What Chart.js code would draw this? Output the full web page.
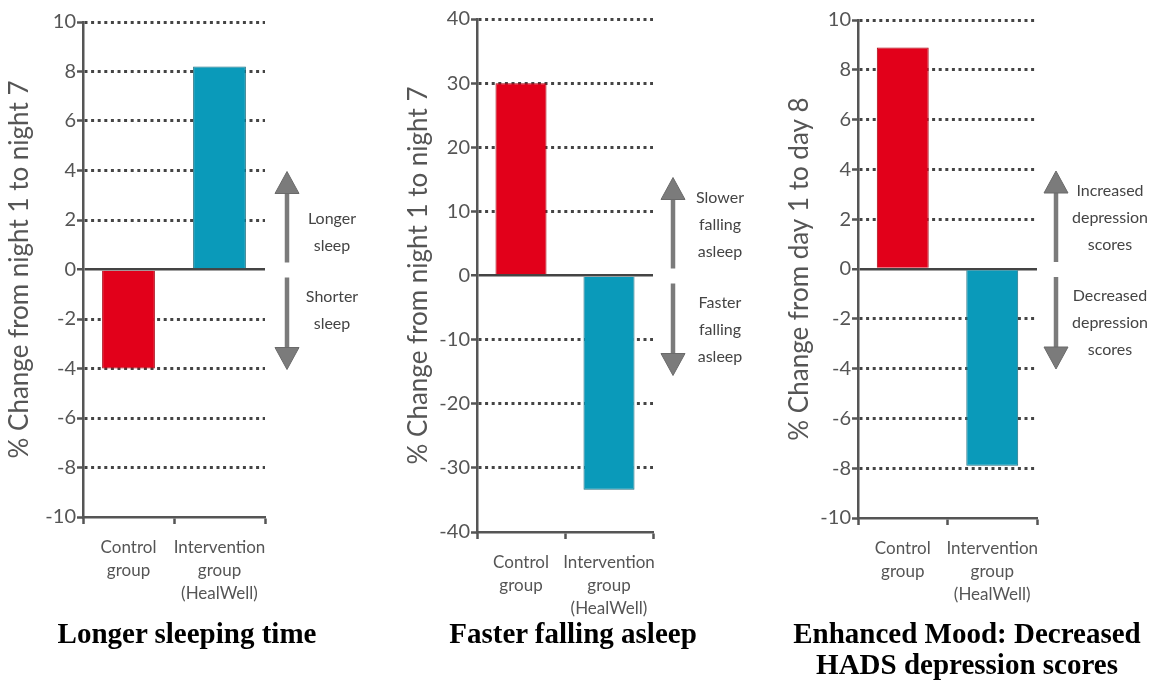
<!DOCTYPE html>
<html>
<head>
<meta charset="utf-8">
<script src="https://cdn.jsdelivr.net/npm/chart.js@4.4.1/dist/chart.umd.min.js"></script>
<style>
  body { margin: 0; background: #fff; width: 1154px; height: 683px; position: relative; overflow: hidden; }
  .box { position: absolute; top: 0; height: 630px; }
  .title {
    position: absolute; top: 618px; width: 390px; text-align: center;
    font-family: "Liberation Serif", "Times New Roman", serif; font-weight: bold;
    font-size: 29px; line-height: 31px; color: #000;
  }
</style>
</head>
<body>
<div class="box" style="left:0;width:380px"><canvas id="sleepTimeChart"></canvas></div>
<div class="box" style="left:399px;width:371px"><canvas id="sleepOnsetChart"></canvas></div>
<div class="box" style="left:780px;width:374px"><canvas id="moodChart"></canvas></div>
<div class="title" style="left:-8px">Longer sleeping time</div>
<div class="title" style="left:378px">Faster falling asleep</div>
<div class="title" style="left:772px">Enhanced Mood: Decreased<br>HADS depression scores</div>
<script>
// Data
const groups = [['Control', 'group'], ['Intervention', 'group', '(HealWell)']];
const sleepTime = [-4, 8.2];      // % change night 1 -> night 7
const sleepOnset = [30, -33.4];   // % change night 1 -> night 7
const depression = [8.9, -7.9];   // % change day 1 -> day 8
const barColors = ['#e2001a', '#0a9aba'];
const barEdges = ['#a8000f', '#1d6f80'];

Chart.defaults.font.family = 'Lato, sans-serif';
Chart.defaults.color = '#555';

// arrows with notes on the right of each plot
function drawArrow(ctx, x, from, to) {
  const dir = to < from ? -1 : 1;
  const headLen = 22, headHalf = 12, shaft = 4.5;
  const base = to - dir * headLen;
  ctx.beginPath();
  ctx.rect(x - shaft / 2, Math.min(from, base), shaft, Math.abs(base - from));
  ctx.fill();
  ctx.beginPath();
  ctx.moveTo(x, to);
  ctx.lineTo(x - headHalf, base);
  ctx.lineTo(x + headHalf, base);
  ctx.closePath();
  ctx.fill();
  ctx.stroke();
}

const arrowNotes = {
  id: 'arrowNotes',
  afterDraw(chart, args, opts) {
    const {ctx, chartArea} = chart;
    const zero = chart.scales.y.getPixelForValue(0);
    const ax = chartArea.right + opts.arrowGap;
    const tx = chartArea.right + opts.textGap;
    ctx.save();
    ctx.fillStyle = '#7b7b7b';
    ctx.strokeStyle = '#6a6a6a';
    ctx.lineWidth = 1;
    drawArrow(ctx, ax, zero - 7, zero - 98);
    drawArrow(ctx, ax, zero + 8, zero + 100);
    ctx.fillStyle = '#444';
    ctx.font = '16px Lato, sans-serif';
    ctx.textAlign = 'center';
    ctx.textBaseline = 'middle';
    opts.up.forEach((line, i) => ctx.fillText(line, tx, zero - 24 - (opts.up.length - 1 - i) * 27));
    opts.down.forEach((line, i) => ctx.fillText(line, tx, zero + 27 + i * 27));
    ctx.restore();
  }
};

function makeChart(id, values, cfg) {
  return new Chart(document.getElementById(id), {
    type: 'bar',
    data: {
      labels: groups,
      datasets: [{
        data: values,
        backgroundColor: barColors,
        borderColor: barEdges,
        borderWidth: 1,
        barPercentage: 0.58,
        categoryPercentage: 1
      }]
    },
    options: {
      responsive: true,
      maintainAspectRatio: false,
      animation: false,
      layout: { padding: { top: cfg.top, right: cfg.right, bottom: 0, left: 0 } },
      plugins: {
        legend: { display: false },
        tooltip: { enabled: false },
        arrowNotes: { up: cfg.up, down: cfg.down, arrowGap: cfg.arrowGap, textGap: cfg.textGap }
      },
      scales: {
        x: {
          afterFit(scale) { scale.height = cfg.xHeight; },
          grid: {
            offset: true, drawOnChartArea: false, drawTicks: true,
            tickLength: 7, tickWidth: 2.5, tickColor: '#555'
          },
          border: { color: '#555', width: 2.5 },
          ticks: {
            padding: 12, color: '#555', autoSkip: false, maxRotation: 0, minRotation: 0,
            font: { size: 17, lineHeight: 1.35 }
          }
        },
        y: {
          min: cfg.min, max: cfg.max,
          afterFit(scale) { scale.width = cfg.yWidth; },
          ticks: { stepSize: cfg.step, padding: 1, color: '#555', font: { size: 20 } },
          grid: {
            color: c => c.tick.value === cfg.min ? 'rgba(0,0,0,0)' : '#444',
            lineWidth: c => c.tick.value === 0 ? 2.5 : 3,
            tickLength: 6, tickWidth: 2.5, tickColor: '#555', tickBorderDash: []
          },
          border: {
            color: '#555', width: 2.5,
            dash: c => (c.tick && c.tick.value === 0) ? [] : [3, 3.6]
          },
          title: {
            display: true, text: cfg.yTitle, color: '#555',
            font: { size: 26 }, padding: { top: 4, bottom: 0 }
          }
        }
      }
    },
    plugins: [arrowNotes]
  });
}

const sleepTimeChart = makeChart('sleepTimeChart', sleepTime, {
  min: -10, max: 10, step: 2, top: 22, right: 115, yWidth: 83, xHeight: 113,
  yTitle: '% Change from night 1 to night 7',
  up: ['Longer', 'sleep'], down: ['Shorter', 'sleep'], arrowGap: 22, textGap: 67
});

const sleepOnsetChart = makeChart('sleepOnsetChart', sleepOnset, {
  min: -40, max: 40, step: 10, top: 19, right: 117, yWidth: 78, xHeight: 98,
  yTitle: '% Change from night 1 to night 7',
  up: ['Slower', 'falling', 'asleep'], down: ['Faster', 'falling', 'asleep'], arrowGap: 20, textGap: 67
});

const moodChart = makeChart('moodChart', depression, {
  min: -10, max: 10, step: 2, top: 20, right: 117, yWidth: 78, xHeight: 112,
  yTitle: '% Change from day 1 to day 8',
  up: ['Increased', 'depression', 'scores'], down: ['Decreased', 'depression', 'scores'], arrowGap: 19, textGap: 73
});
</script>
</body>
</html>
